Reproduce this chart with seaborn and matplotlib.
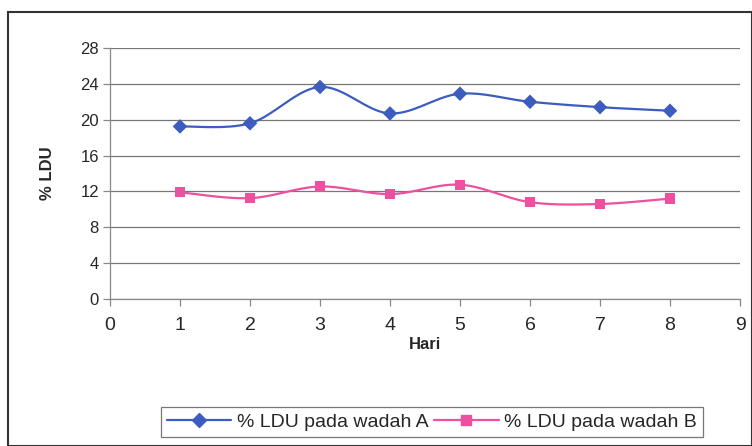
import numpy as np
import pandas as pd
import matplotlib
matplotlib.use("Agg")
import matplotlib.pyplot as plt
import seaborn as sns
from matplotlib.patches import Rectangle
from matplotlib.lines import Line2D

hari = [1, 2, 3, 4, 5, 6, 7, 8]
ldu_a = [19.25, 19.6, 23.65, 20.7, 22.9, 22.0, 21.4, 21.0]
ldu_b = [11.9, 11.25, 12.55, 11.7, 12.75, 10.8, 10.6, 11.2]
label_a = "% LDU pada wadah A"
label_b = "% LDU pada wadah B"
yticks = [0, 4, 8, 12, 16, 20, 24, 28]
xticks = [0, 1, 2, 3, 4, 5, 6, 7, 8, 9]

sns.set_theme(style="white")
plt.rcParams['font.family'] = ['Liberation Sans', 'DejaVu Sans']

col_a = "#3D5CC0"
col_b = "#EE4F9E"


def smooth(x, y, n=20):
    # Catmull-Rom style smoothing (Excel smoothed line rendering)
    x = np.asarray(x, float)
    y = np.asarray(y, float)
    px = np.concatenate([[x[0]], x, [x[-1]]])
    py = np.concatenate([[y[0]], y, [y[-1]]])
    xs, ys = [], []
    t = np.linspace(0, 1, n)
    for i in range(1, len(px) - 2):
        p0x, p1x, p2x, p3x = px[i - 1], px[i], px[i + 1], px[i + 2]
        p0y, p1y, p2y, p3y = py[i - 1], py[i], py[i + 1], py[i + 2]
        c1x = p1x + (p2x - p0x) / 6
        c1y = p1y + (p2y - p0y) / 6
        c2x = p2x - (p3x - p1x) / 6
        c2y = p2y - (p3y - p1y) / 6
        bx = (1 - t) ** 3 * p1x + 3 * (1 - t) ** 2 * t * c1x + 3 * (1 - t) * t ** 2 * c2x + t ** 3 * p2x
        by = (1 - t) ** 3 * p1y + 3 * (1 - t) ** 2 * t * c1y + 3 * (1 - t) * t ** 2 * c2y + t ** 3 * p2y
        xs.append(bx)
        ys.append(by)
    return np.concatenate(xs), np.concatenate(ys)


fig = plt.figure(figsize=(7.52, 4.46), dpi=100)
ax = fig.add_axes([110 / 752, 1 - 299 / 446, 630 / 752, 251 / 446])

for yv, col in ((ldu_a, col_a), (ldu_b, col_b)):
    sx, sy = smooth(hari, yv)
    sns.lineplot(x=sx, y=sy, ax=ax, color=col, linewidth=1.6, sort=False)

df = pd.DataFrame({"Hari": hari * 2, "LDU": ldu_a + ldu_b,
                   "seri": [label_a] * 8 + [label_b] * 8})
sns.scatterplot(data=df, x="Hari", y="LDU", hue="seri", style="seri",
                markers={label_a: "D", label_b: "s"},
                palette={label_a: col_a, label_b: col_b},
                s=55, edgecolor="none", ax=ax, legend=False, zorder=5)

ax.set_xlim(0, 9)
ax.set_ylim(0, 28)
ax.set_xticks(xticks)
ax.set_yticks(yticks)
ax.set_xticklabels([str(v) for v in xticks], fontsize=14)
ax.set_yticklabels([str(v) for v in yticks], fontsize=12)
ax.grid(axis='y', color="#777777", linewidth=0.9)
ax.grid(axis='x', visible=False)
for s in ("top", "right"):
    ax.spines[s].set_visible(False)
for s in ("left", "bottom"):
    ax.spines[s].set_color("#888888")
    ax.spines[s].set_linewidth(0.9)
ax.tick_params(axis='both', which='both', length=5, width=0.9, color="#888888",
               direction='out', left=True, bottom=True)
ax.tick_params(axis='x', pad=8)
ax.tick_params(axis='y', pad=3)
ax.set_xlabel("Hari", fontsize=12, fontweight='bold', labelpad=2)
ax.set_ylabel("% LDU", fontsize=12, fontweight='bold', labelpad=18)

handles = [Line2D([0], [0], color=col_a, marker="D", markersize=7, lw=1.6),
           Line2D([0], [0], color=col_b, marker="s", markersize=7, lw=1.6)]
leg = fig.legend(handles, [label_a, label_b], loc="center",
                 bbox_to_anchor=(432 / 752, 1 - 422 / 446), ncol=2,
                 fontsize=14, frameon=True, fancybox=False, edgecolor="#555555",
                 handlelength=3.3, columnspacing=0.3, handletextpad=0.3,
                 borderpad=0.3, borderaxespad=0)
leg.get_frame().set_linewidth(0.9)

fig.patches.append(Rectangle((8 / 752, 0), 744 / 752, 1 - 12 / 446,
                             transform=fig.transFigure, fill=False,
                             edgecolor="#333333", linewidth=1.5))

fig.savefig("out.png", dpi=100)
